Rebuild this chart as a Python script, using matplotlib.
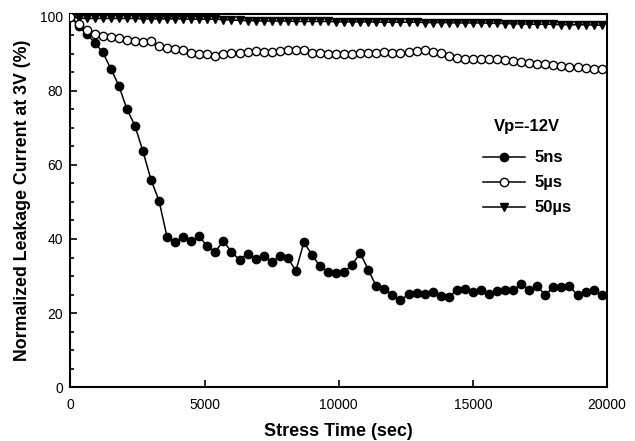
import matplotlib
matplotlib.use("Agg")
import matplotlib.pyplot as plt
from matplotlib.ticker import MultipleLocator

plt.rcParams['font.family'] = ['Liberation Sans', 'DejaVu Sans']

time_sec = list(range(0, 20000, 300))  # 0 ... 19800

ns5 = [100.0, 97.5, 95.3, 93.0, 90.4, 86.0, 81.4, 75.1, 70.6, 63.7,
       56.0, 50.3, 40.5, 39.1, 40.5, 39.4, 40.7, 38.0, 36.6, 39.5,
       36.5, 34.4, 36.0, 34.7, 35.3, 33.7, 35.5, 34.9, 31.4, 39.1,
       35.8, 32.6, 31.2, 30.8, 31.1, 33.1, 36.2, 31.7, 27.2, 26.6,
       24.9, 23.4, 25.1, 25.4, 25.2, 25.6, 24.7, 24.3, 26.3, 26.6,
       25.6, 26.1, 25.1, 26.0, 26.3, 26.1, 27.9, 26.3, 27.2, 24.9,
       27.0, 27.0, 27.2, 24.9, 25.8, 26.1, 24.9]

us5 = [100.0, 97.9, 96.3, 95.4, 94.9, 94.6, 94.1, 93.8, 93.5, 93.1,
       93.4, 92.1, 91.5, 91.2, 91.0, 90.3, 90.0, 89.8, 89.4, 89.9,
       90.2, 90.3, 90.4, 90.6, 90.4, 90.4, 90.6, 91.1, 90.9, 90.9,
       90.2, 90.1, 90.0, 90.0, 90.0, 90.0, 90.2, 90.2, 90.1, 90.4,
       90.3, 90.3, 90.4, 90.7, 91.0, 90.4, 90.1, 89.4, 88.9, 88.6,
       88.5, 88.5, 88.5, 88.5, 88.4, 88.0, 87.8, 87.6, 87.3, 87.3,
       86.9, 86.6, 86.5, 86.4, 86.2, 86.0, 85.8]

us50 = [100.0, 99.6, 99.5, 99.5, 99.5, 99.5, 99.5, 99.5, 99.5, 99.4,
        99.4, 99.4, 99.4, 99.4, 99.4, 99.3, 99.3, 99.3, 99.3, 99.2,
        99.1, 99.0, 98.9, 98.9, 98.8, 98.8, 98.8, 98.8, 98.7, 98.7,
        98.7, 98.7, 98.7, 98.6, 98.6, 98.6, 98.6, 98.6, 98.5, 98.5,
        98.5, 98.5, 98.5, 98.5, 98.4, 98.4, 98.4, 98.4, 98.3, 98.3,
        98.3, 98.3, 98.2, 98.2, 98.1, 98.1, 98.0, 98.0, 97.9, 98.0,
        97.9, 97.8, 97.8, 97.8, 97.8, 97.7, 97.7]

labels = ['5ns', '5\u00b5s', '50\u00b5s']
legend_title = 'Vp=-12V'

fig = plt.figure(figsize=(6.35, 4.41), dpi=100)
ax = fig.add_axes([0.111, 0.122, 0.845, 0.847])

ax.plot(time_sec, us50, color='black', lw=1.1, marker='v', ms=6,
        mfc='black', mec='black', label=labels[2], zorder=3)
ax.plot(time_sec, ns5, color='black', lw=1.1, marker='o', ms=6,
        mfc='black', mec='black', label=labels[0], zorder=4)
ax.plot(time_sec, us5, color='black', lw=1.1, marker='o', ms=6,
        mfc='white', mec='black', mew=1.0, label=labels[1], zorder=5)

ax.set_xlim(0, 20000)
ax.set_ylim(0, 100.8)
ax.xaxis.set_major_locator(MultipleLocator(5000))
ax.yaxis.set_major_locator(MultipleLocator(20))
ax.yaxis.set_minor_locator(MultipleLocator(5))
ax.tick_params(which='both', direction='in', labelsize=10, width=1.2)
ax.tick_params(which='major', length=5)
ax.tick_params(which='minor', length=3)
ax.tick_params(axis='x', pad=8)
ax.tick_params(axis='y', pad=5.5)
for s in ax.spines.values():
    s.set_linewidth(1.5)

ax.set_xlabel('Stress Time (sec)', fontsize=13, fontweight='bold', labelpad=8)
ax.set_ylabel('Normalized Leakage Current at 3V (%)', fontsize=12.8,
              fontweight='bold', labelpad=6)

ax.text(0.851, 0.699, legend_title, transform=ax.transAxes, ha='center',
        va='center', fontsize=12, fontweight='bold')

h, l = ax.get_legend_handles_labels()
order = [1, 2, 0]
leg = ax.legend([h[i] for i in order], [l[i] for i in order],
                loc='upper left', bbox_to_anchor=(0.769, 0.634),
                frameon=False, borderpad=0, borderaxespad=0,
                prop={'weight': 'bold', 'size': 12},
                handlelength=2.5, labelspacing=0.6, handletextpad=0.6)

fig.savefig('out.png', dpi=100)
